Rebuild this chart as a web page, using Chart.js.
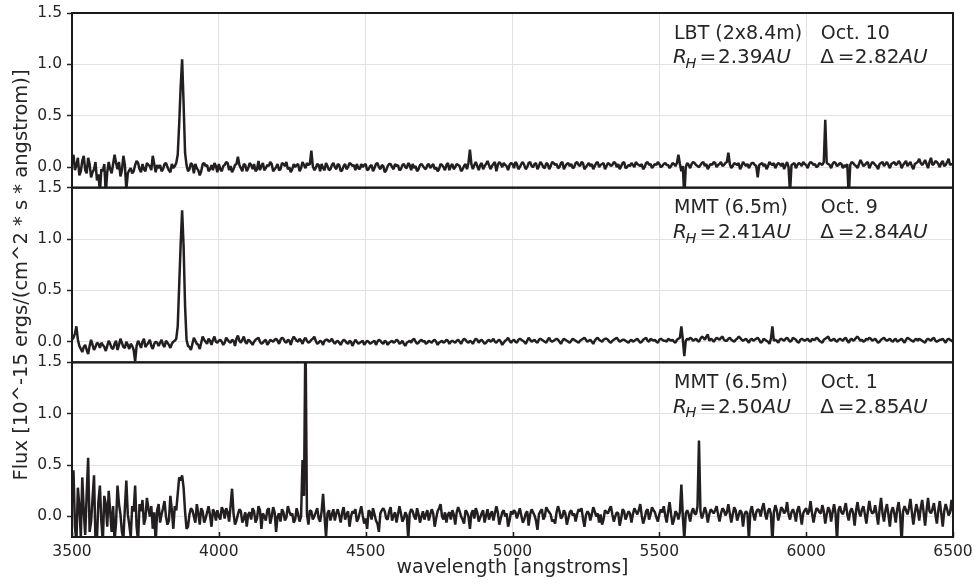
<!DOCTYPE html>
<html>
<head>
<meta charset="utf-8">
<script src="https://cdn.jsdelivr.net/npm/chart.js@4.4.1/dist/chart.umd.min.js"></script>
<style>
  body { margin: 0; background: #fff; }
  canvas { display: block; }
</style>
</head>
<body>
<canvas id="espectros" width="975" height="587"></canvas>
<script>
// wavelength grid [angstroms], one row per 100 A
const wavelength = [
  3500,3505,3510,3515,3520,3525,3530,3535,3540,3545,3550,3555,3560,3565,3570,3575,3580,3585,3590,3595,
  3600,3605,3610,3615,3620,3625,3630,3635,3640,3645,3650,3655,3660,3665,3670,3675,3680,3685,3690,3695,
  3700,3705,3710,3715,3720,3725,3730,3735,3740,3745,3750,3755,3760,3765,3770,3775,3780,3785,3790,3795,
  3800,3805,3810,3815,3820,3825,3830,3835,3840,3845,3850,3855,3860,3865,3870,3875,3880,3885,3890,3895,
  3900,3905,3910,3915,3920,3925,3930,3935,3940,3945,3950,3955,3960,3965,3970,3975,3980,3985,3990,3995,
  4000,4005,4010,4015,4020,4025,4030,4035,4040,4045,4050,4055,4060,4065,4070,4075,4080,4085,4090,4095,
  4100,4105,4110,4115,4120,4125,4130,4135,4140,4145,4150,4155,4160,4165,4170,4175,4180,4185,4190,4195,
  4200,4205,4210,4215,4220,4225,4230,4235,4240,4245,4250,4255,4260,4265,4270,4275,4280,4285,4290,4295,
  4300,4305,4310,4315,4320,4325,4330,4335,4340,4345,4350,4355,4360,4365,4370,4375,4380,4385,4390,4395,
  4400,4405,4410,4415,4420,4425,4430,4435,4440,4445,4450,4455,4460,4465,4470,4475,4480,4485,4490,4495,
  4500,4505,4510,4515,4520,4525,4530,4535,4540,4545,4550,4555,4560,4565,4570,4575,4580,4585,4590,4595,
  4600,4605,4610,4615,4620,4625,4630,4635,4640,4645,4650,4655,4660,4665,4670,4675,4680,4685,4690,4695,
  4700,4705,4710,4715,4720,4725,4730,4735,4740,4745,4750,4755,4760,4765,4770,4775,4780,4785,4790,4795,
  4800,4805,4810,4815,4820,4825,4830,4835,4840,4845,4850,4855,4860,4865,4870,4875,4880,4885,4890,4895,
  4900,4905,4910,4915,4920,4925,4930,4935,4940,4945,4950,4955,4960,4965,4970,4975,4980,4985,4990,4995,
  5000,5005,5010,5015,5020,5025,5030,5035,5040,5045,5050,5055,5060,5065,5070,5075,5080,5085,5090,5095,
  5100,5105,5110,5115,5120,5125,5130,5135,5140,5145,5150,5155,5160,5165,5170,5175,5180,5185,5190,5195,
  5200,5205,5210,5215,5220,5225,5230,5235,5240,5245,5250,5255,5260,5265,5270,5275,5280,5285,5290,5295,
  5300,5305,5310,5315,5320,5325,5330,5335,5340,5345,5350,5355,5360,5365,5370,5375,5380,5385,5390,5395,
  5400,5405,5410,5415,5420,5425,5430,5435,5440,5445,5450,5455,5460,5465,5470,5475,5480,5485,5490,5495,
  5500,5505,5510,5515,5520,5525,5530,5535,5540,5545,5550,5555,5560,5565,5570,5575,5580,5585,5590,5595,
  5600,5605,5610,5615,5620,5625,5630,5635,5640,5645,5650,5655,5660,5665,5670,5675,5680,5685,5690,5695,
  5700,5705,5710,5715,5720,5725,5730,5735,5740,5745,5750,5755,5760,5765,5770,5775,5780,5785,5790,5795,
  5800,5805,5810,5815,5820,5825,5830,5835,5840,5845,5850,5855,5860,5865,5870,5875,5880,5885,5890,5895,
  5900,5905,5910,5915,5920,5925,5930,5935,5940,5945,5950,5955,5960,5965,5970,5975,5980,5985,5990,5995,
  6000,6005,6010,6015,6020,6025,6030,6035,6040,6045,6050,6055,6060,6065,6070,6075,6080,6085,6090,6095,
  6100,6105,6110,6115,6120,6125,6130,6135,6140,6145,6150,6155,6160,6165,6170,6175,6180,6185,6190,6195,
  6200,6205,6210,6215,6220,6225,6230,6235,6240,6245,6250,6255,6260,6265,6270,6275,6280,6285,6290,6295,
  6300,6305,6310,6315,6320,6325,6330,6335,6340,6345,6350,6355,6360,6365,6370,6375,6380,6385,6390,6395,
  6400,6405,6410,6415,6420,6425,6430,6435,6440,6445,6450,6455,6460,6465,6470,6475,6480,6485,6490,6495,
  6500];

// LBT (2x8.4m), Oct. 10
const fluxLBT = [
  0.06,0.12,-0.03,0.02,0.09,-0.08,-0.04,0.06,0.11,-0.03,-0.06,0.09,0.03,-0.10,-0.05,-0.02,0.05,-0.13,-0.07,-0.24,
  -0.02,-0.04,0.03,-0.26,-0.05,0.05,-0.02,-0.06,0.03,0.12,0.04,-0.02,0.05,-0.09,-0.03,0.11,0.02,-0.22,-0.06,-0.03,
  -0.01,-0.06,-0.04,0.02,0.06,0.04,-0.02,-0.05,0.03,-0.02,-0.04,0.04,0.02,0.01,-0.03,0.11,0.03,-0.05,0.02,-0.01,
  0.02,-0.04,-0.02,0.03,0.04,0.00,-0.03,-0.05,0.03,-0.01,0.01,0.04,0.12,0.42,0.78,1.05,0.62,0.14,0.02,-0.04,
  -0.02,0.04,0.02,-0.06,0.03,-0.01,-0.03,-0.08,-0.04,0.03,0.04,0.01,0.02,-0.04,-0.02,0.02,-0.03,0.04,0.01,-0.05,
  0.03,-0.02,-0.04,0.01,0.02,0.05,0.04,-0.03,0.01,-0.05,-0.02,0.02,0.03,0.10,0.02,-0.01,-0.04,0.03,0.02,-0.04,
  -0.01,0.04,0.02,-0.02,0.03,-0.04,-0.02,0.06,-0.03,0.01,0.04,-0.03,-0.01,0.02,0.01,0.05,0.03,-0.04,-0.02,0.00,
  0.03,-0.03,-0.02,0.04,0.03,0.01,0.05,-0.02,0.00,-0.05,-0.02,0.03,0.00,0.02,0.03,-0.04,-0.01,0.05,0.02,-0.01,
  0.04,0.02,0.03,0.16,0.01,-0.03,-0.01,0.03,0.02,-0.04,0.03,-0.01,-0.03,0.04,0.01,-0.03,-0.02,0.02,0.04,0.00,
  -0.02,0.03,0.02,-0.04,-0.03,0.01,0.03,-0.02,0.00,0.04,0.03,0.01,0.02,-0.03,0.03,-0.01,-0.02,0.03,0.00,0.02,
  0.03,-0.03,-0.02,0.01,0.02,-0.04,-0.01,0.03,0.04,0.00,-0.02,0.02,0.01,-0.05,-0.03,0.01,0.03,0.03,0.00,-0.02,
  0.03,0.01,0.02,-0.03,-0.02,0.02,0.03,0.00,-0.01,0.04,0.02,-0.03,0.03,-0.01,0.01,-0.04,-0.02,0.02,0.03,0.01,
  -0.01,-0.02,0.02,0.03,-0.01,0.01,0.03,-0.02,0.00,-0.04,-0.02,0.03,0.02,0.00,-0.03,0.02,0.04,-0.03,0.01,0.03,
  -0.02,0.00,0.03,0.02,0.01,-0.04,-0.02,0.01,0.03,-0.02,0.04,0.17,0.03,-0.02,0.02,0.05,0.01,-0.03,0.02,0.04,
  -0.02,0.01,0.03,0.06,0.02,-0.02,0.01,0.03,0.05,-0.04,0.02,0.05,0.03,0.00,0.04,0.02,0.01,-0.03,0.02,0.04,
  0.03,-0.01,0.05,0.03,-0.02,0.00,0.03,0.05,0.02,-0.02,0.00,0.04,0.05,0.01,0.00,0.03,0.04,-0.02,0.01,0.05,
  0.03,0.00,-0.01,0.04,0.03,-0.02,0.01,0.05,0.04,0.02,0.03,-0.01,0.00,0.04,0.05,-0.02,0.01,0.03,0.04,0.01,
  0.03,-0.01,0.00,0.04,0.05,0.02,0.01,0.05,0.04,-0.02,0.00,0.02,0.04,0.01,0.03,-0.02,0.01,0.04,0.05,0.00,
  0.02,0.03,0.04,-0.02,0.01,0.04,0.03,0.01,0.02,0.05,0.04,0.00,0.03,-0.02,0.01,0.04,0.05,-0.01,0.00,0.02,
  0.01,0.04,0.02,0.00,0.05,0.03,0.02,0.01,0.03,-0.02,0.00,0.04,0.05,0.02,0.03,-0.01,0.01,0.03,0.02,0.05,
  0.03,0.00,0.01,0.03,0.04,0.02,0.02,-0.01,0.01,0.04,0.03,0.01,0.04,0.12,0.03,-0.04,0.01,-0.30,0.00,0.04,
  0.02,-0.01,0.03,0.05,0.04,0.02,0.01,0.00,0.02,0.04,0.05,0.01,0.03,-0.02,0.01,0.03,0.02,0.05,0.04,0.00,
  0.02,0.03,0.05,0.01,0.02,0.04,0.05,0.14,0.03,-0.01,0.01,0.04,0.03,0.02,0.04,-0.02,0.01,0.05,0.03,0.01,
  0.03,-0.01,0.02,0.04,0.04,0.02,0.01,-0.10,0.02,0.03,0.04,0.01,0.03,-0.02,0.01,0.05,0.03,0.02,0.04,-0.01,
  0.02,0.04,0.03,0.01,0.04,-0.02,0.02,0.05,0.00,-0.25,0.02,0.03,0.04,-0.01,0.02,0.04,0.03,0.01,0.05,0.03,
  0.02,-0.01,0.03,0.05,0.04,0.02,0.03,0.00,0.01,0.04,0.03,0.02,0.05,0.46,0.04,0.03,0.02,-0.01,0.03,0.05,
  0.04,0.01,0.02,0.04,0.03,-0.01,0.02,0.00,0.03,-0.30,0.02,0.05,0.04,0.02,0.01,-0.01,0.03,0.07,0.04,0.01,
  0.02,0.04,0.05,-0.01,0.02,0.05,0.04,0.02,0.01,-0.02,0.03,0.04,0.05,0.01,0.03,0.05,0.02,-0.01,0.03,0.04,
  0.05,0.02,0.03,0.06,0.04,-0.01,0.02,0.04,0.06,0.01,0.03,0.05,0.01,-0.02,0.03,0.04,0.05,0.08,0.04,0.02,
  0.04,0.07,0.03,-0.01,0.05,0.09,0.02,0.03,0.06,0.05,0.03,0.00,0.04,0.06,0.01,0.02,0.05,0.08,0.02,0.03,
  0.02];

// MMT (6.5m), Oct. 9
const fluxMMT9 = [
  0.02,0.04,0.08,0.15,0.02,-0.04,-0.07,-0.10,-0.05,-0.03,-0.08,-0.12,-0.04,0.02,-0.03,-0.08,-0.05,-0.01,-0.02,-0.06,
  -0.01,-0.03,-0.05,-0.09,-0.04,0.01,-0.02,-0.06,-0.07,-0.02,0.01,-0.08,-0.03,0.03,-0.01,-0.05,-0.06,0.00,-0.03,-0.07,
  -0.02,-0.04,-0.08,-0.19,-0.04,0.01,-0.02,-0.06,0.00,0.03,-0.05,-0.03,-0.01,0.02,-0.04,-0.07,-0.02,0.00,-0.01,-0.04,
  -0.01,0.02,-0.03,-0.05,0.01,-0.01,-0.03,-0.06,-0.02,0.00,0.01,0.03,0.15,0.55,0.95,1.28,0.93,0.35,0.02,-0.04,
  -0.05,-0.08,-0.02,0.04,0.01,-0.02,-0.03,-0.07,-0.01,0.05,0.02,0.00,-0.02,0.03,0.01,-0.03,0.02,0.05,0.00,-0.01,
  0.01,0.02,0.00,-0.03,-0.01,0.04,0.02,0.00,-0.01,0.02,0.01,-0.04,0.03,0.06,0.01,-0.01,0.02,0.05,0.00,-0.02,
  0.02,0.01,-0.01,-0.03,0.00,0.02,0.03,0.04,0.00,-0.02,-0.01,0.01,0.02,-0.03,-0.01,0.02,0.01,0.00,0.02,0.03,
  0.01,-0.02,0.02,0.04,0.03,0.00,-0.01,0.02,0.01,-0.03,0.02,0.05,0.03,0.01,0.00,0.03,0.01,-0.02,0.02,0.04,
  0.01,-0.01,0.00,0.02,0.03,0.05,0.01,-0.02,-0.01,0.01,0.00,-0.03,0.01,0.02,0.02,0.00,0.01,0.03,0.00,-0.02,
  0.00,0.01,-0.01,-0.03,0.00,0.02,0.01,-0.01,-0.02,0.01,0.00,-0.04,-0.01,0.02,0.00,-0.02,-0.01,0.00,0.01,-0.03,
  -0.01,0.01,0.00,-0.02,-0.01,0.00,0.01,-0.03,0.00,0.02,0.01,-0.01,-0.02,0.01,0.00,-0.03,-0.01,0.00,0.01,-0.01,
  0.00,0.02,0.01,-0.02,-0.01,0.01,-0.02,-0.04,-0.01,0.00,0.01,-0.01,0.02,0.03,0.00,-0.02,-0.01,0.01,0.02,0.00,
  0.01,-0.02,-0.01,0.01,0.00,-0.01,0.01,0.02,0.00,-0.03,-0.01,0.00,0.01,-0.01,0.00,0.02,0.01,-0.02,0.00,0.01,
  0.00,-0.01,0.01,0.02,0.00,-0.02,0.01,0.03,0.02,0.00,-0.01,0.01,0.00,-0.02,0.01,0.03,0.02,-0.01,0.01,0.02,
  0.00,-0.02,-0.01,0.01,0.02,0.00,0.01,0.03,0.00,-0.01,0.01,0.02,0.00,-0.03,-0.01,0.01,0.02,0.04,0.01,-0.01,
  0.01,0.02,0.00,-0.01,0.02,0.03,0.02,0.01,0.00,-0.02,0.01,0.04,0.02,0.00,0.01,0.02,0.00,-0.01,0.02,0.03,
  0.02,0.01,0.00,-0.01,0.02,0.04,0.01,0.00,0.01,0.02,0.03,0.02,0.00,-0.02,0.01,0.03,0.02,0.01,0.00,-0.01,
  0.01,0.03,0.02,0.01,0.00,-0.01,0.01,0.02,0.03,0.04,0.02,0.00,0.01,0.02,0.00,-0.02,0.01,0.03,0.04,0.02,
  0.01,0.00,0.02,0.03,0.03,0.02,0.00,-0.01,0.01,0.02,0.03,0.04,0.02,0.00,0.01,0.02,0.02,0.01,0.00,-0.01,
  0.01,0.02,0.00,0.01,0.02,0.03,0.01,-0.01,0.00,0.02,0.03,0.04,0.01,0.00,0.03,0.02,0.01,0.02,0.00,-0.01,
  0.02,0.03,0.02,0.01,0.01,0.00,0.03,0.02,0.01,0.02,0.00,-0.01,0.02,0.03,0.04,0.15,0.02,-0.14,0.01,0.03,
  0.02,0.04,0.03,0.01,0.02,0.03,0.01,0.00,0.03,0.05,0.04,0.02,0.05,0.07,0.01,0.03,0.02,0.00,0.02,0.04,
  0.03,0.02,0.04,0.05,0.02,0.01,0.01,0.03,0.04,0.02,0.01,0.00,0.02,0.03,0.05,0.04,0.02,0.01,0.02,0.03,
  0.01,-0.01,0.02,0.03,0.01,0.02,0.03,0.04,0.02,-0.01,0.00,0.03,0.02,0.01,0.00,-0.02,0.03,0.15,0.01,0.02,
  0.01,-0.01,0.02,0.03,0.02,0.01,0.03,0.04,0.02,0.00,0.01,0.04,0.03,0.02,0.00,-0.01,0.02,0.03,0.02,0.01,
  0.02,0.03,0.01,0.00,0.03,0.02,0.02,0.04,0.03,0.01,0.00,-0.01,0.02,0.03,0.04,0.05,0.02,0.01,0.02,0.03,
  0.01,0.00,0.02,0.03,0.02,0.01,0.03,0.04,0.01,-0.01,0.02,0.03,0.01,0.02,0.04,0.05,0.03,0.01,0.02,0.00,
  0.01,0.03,0.02,0.04,0.03,0.01,0.02,0.03,0.01,-0.01,0.00,0.02,0.03,0.04,0.02,0.01,0.02,0.03,0.01,0.00,
  0.02,0.03,0.00,0.01,0.02,0.03,0.01,-0.01,0.02,0.04,0.03,0.02,0.01,0.00,0.02,0.03,0.01,0.03,0.02,0.01,
  0.00,-0.01,0.02,0.03,0.02,0.01,0.03,0.04,0.01,0.00,0.01,0.02,0.02,0.03,0.01,-0.01,0.02,0.03,0.02,0.01,
  0.00];

// MMT (6.5m), Oct. 1
const fluxMMT1 = [
  0.20,0.45,-0.10,-0.25,0.28,0.10,-0.20,0.38,0.05,-0.18,0.22,0.57,-0.15,-0.05,0.18,0.40,-0.24,-0.22,0.15,0.30,
  -0.05,-0.25,0.20,0.12,-0.10,0.25,0.05,-0.15,0.10,-0.24,-0.06,0.30,0.12,0.02,-0.15,-0.22,0.08,0.35,0.02,-0.08,
  -0.20,0.10,0.05,0.30,-0.10,-0.24,0.12,0.05,0.16,-0.08,-0.02,0.18,0.08,0.00,0.10,-0.12,0.04,-0.26,0.06,0.12,
  -0.06,0.02,0.08,0.15,0.00,-0.08,-0.04,0.20,0.06,-0.12,0.10,0.06,0.22,0.38,0.35,0.40,0.28,0.05,-0.12,-0.10,
  0.02,0.08,0.06,0.00,-0.06,0.12,0.03,-0.08,0.08,0.05,-0.06,-0.02,0.04,0.10,0.01,-0.10,0.07,0.04,-0.04,0.06,
  0.00,-0.03,0.09,0.06,-0.02,0.08,0.04,-0.05,0.10,0.27,0.03,-0.08,-0.04,0.02,0.07,0.05,-0.06,-0.02,0.04,-0.10,
  0.02,0.04,-0.03,0.08,0.05,-0.06,-0.02,0.10,0.06,-0.12,0.03,0.00,-0.04,0.06,0.08,-0.07,0.00,0.09,0.04,-0.15,
  0.00,0.03,-0.05,0.07,0.04,-0.04,-0.01,0.10,0.05,0.01,0.03,-0.06,-0.03,0.08,0.02,-0.05,0.00,0.55,0.20,1.85,
  0.02,-0.08,0.06,0.05,-0.03,0.00,0.04,0.08,-0.02,-0.05,0.05,0.22,0.00,-0.20,0.03,0.06,-0.04,0.02,0.07,-0.04,
  0.03,0.07,0.01,-0.06,0.04,0.09,-0.03,0.02,0.05,-0.10,0.00,0.05,0.03,0.07,-0.05,-0.02,0.04,0.10,0.01,-0.07,
  -0.02,-0.12,0.06,0.04,-0.03,0.08,0.02,-0.04,-0.07,-0.15,0.03,0.06,0.08,0.05,-0.02,-0.03,0.05,0.09,-0.04,0.01,
  0.04,-0.06,0.02,0.10,0.03,-0.05,-0.02,0.04,0.01,-0.22,0.03,0.07,0.05,0.00,-0.03,0.08,0.02,-0.06,0.00,0.05,
  -0.03,0.02,0.06,-0.04,0.02,0.07,0.03,-0.10,-0.02,0.05,0.08,0.12,0.00,-0.03,0.04,-0.06,0.02,0.04,-0.03,0.06,
  0.02,-0.08,0.04,0.09,0.05,0.00,-0.03,-0.07,0.06,0.04,0.00,-0.12,0.03,0.06,-0.02,0.08,0.04,-0.05,-0.01,0.03,
  0.06,-0.06,0.01,0.07,-0.03,0.02,0.05,-0.04,0.03,0.10,0.04,-0.08,-0.02,0.04,0.06,0.00,0.03,-0.10,-0.04,0.05,
  0.02,0.06,0.04,-0.02,0.03,0.08,0.01,-0.06,-0.03,0.03,0.05,-0.09,0.02,0.07,0.04,0.01,-0.04,-0.13,0.02,0.05,
  0.07,-0.03,0.00,0.09,0.06,0.04,0.02,-0.05,-0.03,-0.07,0.04,0.10,0.05,-0.02,0.00,0.06,0.03,-0.08,-0.02,0.04,
  0.06,0.01,0.03,-0.05,0.02,0.07,0.05,0.08,-0.02,-0.10,0.01,0.05,0.03,-0.04,0.02,0.09,0.05,0.00,0.03,-0.06,
  0.02,-0.08,-0.03,0.06,0.04,0.03,0.07,0.10,0.02,-0.05,0.00,0.04,0.03,-0.09,-0.02,0.07,0.05,-0.03,0.01,0.05,
  0.03,-0.06,0.02,0.08,0.05,0.02,0.06,0.12,0.01,-0.07,-0.02,0.05,0.07,-0.03,0.02,0.09,0.06,0.04,-0.01,-0.05,
  0.02,0.07,0.04,0.10,0.01,-0.06,0.05,0.14,0.02,-0.08,-0.03,0.05,0.03,-0.03,0.04,0.31,0.00,-0.22,0.03,0.06,
  0.02,-0.05,0.04,0.08,0.03,0.02,0.10,0.74,0.05,-0.02,0.03,0.09,0.04,-0.06,0.02,0.07,0.05,0.03,0.06,0.10,
  0.02,-0.05,0.03,0.08,0.06,0.01,0.04,0.12,0.03,-0.06,0.02,0.09,0.06,-0.04,0.01,0.06,0.04,-0.10,0.02,0.05,
  0.03,-0.23,0.05,0.10,0.02,-0.04,0.04,0.07,0.06,0.00,0.08,0.13,0.03,-0.03,0.05,0.08,0.02,-0.25,0.04,0.11,
  0.06,-0.04,0.02,0.09,0.07,0.03,0.05,0.14,0.02,-0.03,0.04,0.07,0.03,-0.05,0.06,0.10,0.02,-0.08,0.03,0.06,
  0.08,0.02,0.05,0.15,0.03,-0.06,0.02,0.08,0.07,0.04,0.03,0.11,0.05,-0.07,0.02,0.09,0.06,-0.05,0.04,0.12,
  0.03,-0.24,0.06,0.10,0.04,0.02,0.07,0.13,0.02,-0.04,0.05,0.08,0.03,-0.09,0.06,0.14,0.04,0.00,0.07,0.10,
  0.02,-0.07,0.05,0.15,0.06,0.03,0.04,0.11,0.02,-0.08,0.07,0.18,0.03,-0.05,0.06,0.12,0.02,-0.10,0.05,0.09,
  0.03,-0.06,0.07,0.14,0.02,-0.26,0.05,0.10,0.06,0.02,0.08,0.17,0.04,-0.08,0.03,0.12,0.06,-0.04,0.08,0.16,
  0.04,-0.09,0.06,0.18,0.05,0.03,0.07,0.13,0.02,-0.07,0.06,0.15,0.03,-0.10,0.05,0.12,0.07,0.01,0.04,0.16,
  0.05];

// panel labels
const instrumento = ["LBT (2x8.4m)", "MMT (6.5m)", "MMT (6.5m)"];
const fecha = ["Oct. 10", "Oct. 9", "Oct. 1"];
const distSol = ["2.39", "2.41", "2.50"];
const distTierra = ["2.82", "2.84", "2.85"];

const xTicks = [3500, 4000, 4500, 5000, 5500, 6000, 6500];
const yTicks = [0.0, 0.5, 1.0, 1.5];

// top to bottom
const panelIds = ["yLBT", "yMMT9", "yMMT1"];
const series = [fluxLBT, fluxMMT9, fluxMMT1];

const INK = "#262626";
const LINE = "#231f20";
const FONT = '"DejaVu Sans", sans-serif';

function yScale() {
  return {
    type: "linear",
    position: "left",
    stack: "paneles",
    stackWeight: 1,
    min: -0.2,
    max: 1.5,
    border: { display: false },
    grid: { color: "#e2e2e2", lineWidth: 1, drawTicks: true, tickLength: 5, tickColor: INK, tickWidth: 1.5 },
    ticks: { color: INK, font: { family: FONT, size: 15.5 }, padding: 5, callback: v => v.toFixed(1) },
    afterBuildTicks: s => { s.ticks = yTicks.map(v => ({ value: v })); },
    afterFit: s => { s.width = 72; s.paddingTop = 0; s.paddingBottom = 0; }
  };
}

// second text line: R_H = x AU   and   Δ = x AU
function drawSecondLine(ctx, x0, x1, y, rh, delta) {
  const reg = "20px " + FONT;
  const ita = "italic 20px " + FONT;
  ctx.font = ita;
  ctx.fillText("R", x0 - 1, y);
  ctx.font = "italic 14.5px " + FONT;
  ctx.fillText("H", x0 + 11.5, y + 4.5);
  ctx.font = reg;
  ctx.fillText("=", x0 + 25.5, y);
  ctx.fillText(rh, x0 + 44, y);
  let w = ctx.measureText(rh).width;
  ctx.font = ita;
  ctx.fillText("AU", x0 + 44 + w, y);

  ctx.font = reg;
  ctx.fillText("\u0394", x1 - 0.5, y);
  ctx.fillText("=", x1 + 17, y);
  ctx.fillText(delta, x1 + 34, y);
  w = ctx.measureText(delta).width;
  ctx.font = ita;
  ctx.fillText("AU", x1 + 34 + w, y);
}

const panelPlugin = {
  id: "paneles",
  beforeDatasetDraw(chart, args) {
    const ys = chart.scales[args.meta.yAxisID];
    const a = chart.chartArea;
    chart.ctx.save();
    chart.ctx.beginPath();
    chart.ctx.rect(a.left, ys.top, a.right - a.left, ys.bottom - ys.top);
    chart.ctx.clip();
  },
  afterDatasetDraw(chart) {
    chart.ctx.restore();
  },
  afterDraw(chart) {
    const { ctx, chartArea: a, scales } = chart;
    const xs = scales.x;
    ctx.save();

    // frames
    ctx.strokeStyle = "#1a1a1a";
    ctx.lineWidth = 2;
    panelIds.forEach(id => {
      const s = scales[id];
      ctx.strokeRect(a.left, s.top, a.right - a.left, s.bottom - s.top);
    });

    // inward x ticks on the bottom axis
    ctx.lineWidth = 1.5;
    xTicks.forEach(v => {
      const px = Math.round(xs.getPixelForValue(v)) + 0.5;
      ctx.beginPath();
      ctx.moveTo(px, a.bottom);
      ctx.lineTo(px, a.bottom - 5);
      ctx.stroke();
    });

    // annotations
    ctx.fillStyle = INK;
    ctx.textBaseline = "alphabetic";
    ctx.textAlign = "left";
    panelIds.forEach((id, i) => {
      const s = scales[id];
      const x0 = xs.getPixelForValue(5550);
      const x1 = xs.getPixelForValue(6050);
      const y1 = s.getPixelForValue(1.25);
      const y2 = s.getPixelForValue(1.01);
      ctx.font = "19px " + FONT;
      ctx.fillText(instrumento[i], x0, y1);
      ctx.fillText(fecha[i], x1, y1);
      drawSecondLine(ctx, x0, x1, y2, distSol[i], distTierra[i]);
    });

    // axis titles
    ctx.font = "19px " + FONT;
    ctx.textAlign = "center";
    ctx.fillText("wavelength [angstroms]", (a.left + a.right) / 2, 573);
    ctx.font = "19.5px " + FONT;
    ctx.translate(27, (a.top + a.bottom) / 2);
    ctx.rotate(-Math.PI / 2);
    ctx.fillText("Flux [10^-15 ergs/(cm^2 * s * angstrom)]", 0, 0);
    ctx.restore();
  }
};

const scales = {
  x: {
    type: "linear",
    position: "bottom",
    min: 3500,
    max: 6500,
    border: { display: false },
    grid: { color: "#e2e2e2", lineWidth: 1, drawTicks: false },
    ticks: { color: INK, font: { family: FONT, size: 15.5 }, padding: 6, callback: v => String(v), maxRotation: 0 },
    afterBuildTicks: s => { s.ticks = xTicks.map(v => ({ value: v })); },
    afterFit: s => { s.height = 50; s.paddingLeft = 0; s.paddingRight = 0; }
  }
};
// stacked left axes are laid out bottom-first, so add them in reverse
panelIds.slice().reverse().forEach(id => { scales[id] = yScale(); });

new Chart(document.getElementById("espectros").getContext("2d"), {
  type: "line",
  data: {
    datasets: series.map((vals, i) => ({
      label: instrumento[i] + " " + fecha[i],
      data: wavelength.map((w, k) => ({ x: w, y: vals[k] })),
      yAxisID: panelIds[i],
      borderColor: LINE,
      borderWidth: 2.5,
      borderJoinStyle: "bevel",
      borderCapStyle: "butt",
      pointRadius: 0,
      tension: 0,
      fill: false
    }))
  },
  options: {
    responsive: false,
    animation: false,
    layout: { padding: { top: 13, right: 22, left: 0, bottom: 0 } },
    scales: scales,
    plugins: {
      legend: { display: false },
      tooltip: { enabled: false }
    }
  },
  plugins: [panelPlugin]
});
</script>
</body>
</html>
